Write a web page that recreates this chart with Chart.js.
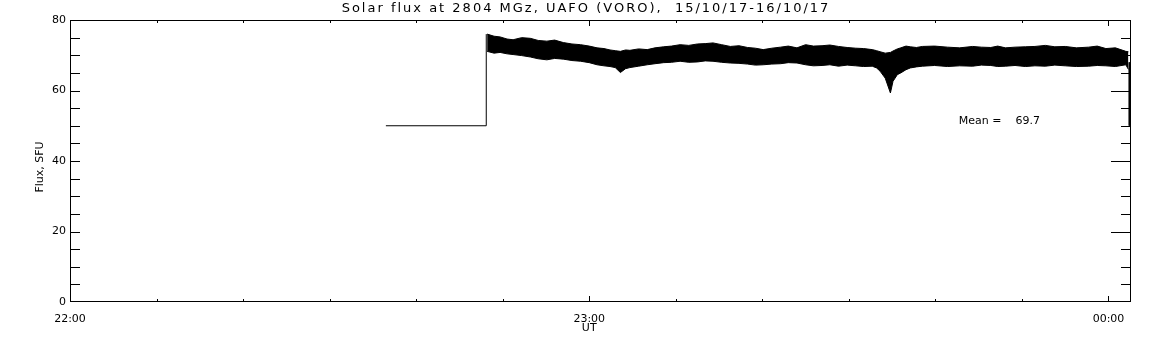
<!DOCTYPE html>
<html>
<head>
<meta charset="utf-8">
<script src="https://cdn.jsdelivr.net/npm/chart.js@4.4.1/dist/chart.umd.min.js"></script>
<style>
  html, body { margin: 0; padding: 0; background: #fff; }
  canvas { display: block; }
</style>
</head>
<body>
<canvas id="fluxChart" width="1152" height="345"></canvas>
<script>
// minutes after 22:00 UT
const bandTime = [48.2, 49.0, 49.7, 50.5, 51.2, 52.2, 53.2, 54.1, 55.1, 56.0, 57.0, 58.0, 59.0, 60.0, 60.9, 61.7,
                  62.4, 63.0, 63.6, 64.2, 64.7, 65.7, 66.7, 67.6, 68.6, 69.5, 70.5, 71.5, 72.5, 73.4, 74.3, 75.3,
                  76.3, 77.3, 78.3, 79.2, 80.1, 81.1, 82.1, 83.0, 84.0, 85.0, 85.9, 86.9, 87.8, 88.8, 89.8, 90.8,
                  91.7, 92.7, 93.2, 93.6, 94.2, 94.8, 95.1, 95.6, 96.0, 96.6, 97.1, 97.8, 98.5, 99.9, 101.4, 102.8,
                  104.3, 105.3, 106.4, 107.2, 108.1, 109.2, 110.4, 111.5, 112.7, 113.8, 115.0, 116.3, 117.7, 118.7,
                  119.7, 120.8, 122.0, 122.3];
const bandHigh = [76.0, 75.4, 75.2, 74.6, 74.4, 75.0, 74.8, 74.2, 74.0, 74.3, 73.6, 73.2, 73.0, 72.6, 72.1, 71.9,
                  71.5, 71.3, 71.1, 71.5, 71.4, 71.8, 71.6, 72.1, 72.4, 72.6, 73.0, 72.8, 73.2, 73.3, 73.5, 73.0,
                  72.5, 72.7, 72.2, 72.0, 71.6, 72.0, 72.3, 72.6, 72.1, 73.0, 72.6, 72.7, 72.9, 72.5, 72.2, 72.0,
                  71.9, 71.6, 71.3, 71.0, 70.6, 70.8, 71.2, 71.8, 72.1, 72.6, 72.4, 72.2, 72.5, 72.6, 72.3, 72.1,
                  72.5, 72.3, 72.2, 72.6, 72.1, 72.3, 72.4, 72.5, 72.8, 72.4, 72.5, 72.1, 72.3, 72.6, 71.9, 72.1,
                  71.1, 71.0];
const bandLow  = [71.1, 70.6, 70.8, 70.4, 70.2, 69.9, 69.5, 69.0, 68.7, 69.1, 68.9, 68.5, 68.3, 67.9, 67.3, 67.0,
                  66.8, 66.5, 65.1, 66.2, 66.5, 66.9, 67.3, 67.6, 67.9, 68.0, 68.3, 68.0, 68.1, 68.4, 68.3, 68.0,
                  67.8, 67.7, 67.5, 67.2, 67.3, 67.5, 67.6, 67.9, 67.8, 67.3, 67.0, 67.1, 67.3, 66.9, 67.2, 67.0,
                  66.8, 66.9, 66.4, 65.5, 63.5, 59.3, 62.6, 64.5, 65.0, 65.9, 66.4, 66.7, 66.9, 67.1, 66.8, 67.0,
                  66.9, 67.2, 67.1, 66.8, 66.9, 67.1, 66.8, 67.0, 66.9, 67.2, 67.0, 66.8, 66.9, 67.1, 67.0, 66.8,
                  67.3, 66.0];
const stepTime = [36.5, 48.1, 48.1];
const stepFlux = [50, 50, 76];
const tailTime = [122.4, 122.4];
const tailFlux = [68, 50];
const hourTicks = [0, 60, 120];
const hourLabels = ['22:00', '23:00', '00:00'];
const meanFlux = 69.7;
const titleText = 'Solar flux at 2804 MGz, UAFO (VORO),  15/10/17-16/10/17';

const pts = (xs, ys) => xs.map((t, i) => ({ x: t, y: ys[i] }));
const FONT = '"DejaVu Sans", sans-serif';

// box, inward ticks and free text
const frame = {
    id: 'frame',
    afterDraw(chart) {
        const { ctx, chartArea: a, scales: { x, y } } = chart;
        ctx.save();
        ctx.strokeStyle = '#000';
        ctx.lineWidth = 1;
        ctx.strokeRect(a.left + 0.5, a.top + 0.5, a.right - a.left - 1, a.bottom - a.top - 1);
        ctx.beginPath();
        for (let t = 0; t <= 120; t += 10) {
            const px = Math.round(x.getPixelForValue(t)) + 0.5;
            const len = t % 60 === 0 ? 6 : 3;
            ctx.moveTo(px, a.bottom); ctx.lineTo(px, a.bottom - len);
            ctx.moveTo(px, a.top); ctx.lineTo(px, a.top + len);
        }
        for (let v = 5; v < 80; v += 5) {
            const py = Math.round(y.getPixelForValue(v)) + 0.5;
            ctx.moveTo(a.left, py); ctx.lineTo(a.left + 10, py);
            const len = v % 20 === 0 ? 20 : 10;
            ctx.moveTo(a.right, py); ctx.lineTo(a.right - len, py);
        }
        ctx.stroke();

        ctx.fillStyle = '#000';
        ctx.textBaseline = 'middle';
        ctx.font = '13px ' + FONT;
        ctx.letterSpacing = '2px';
        ctx.textAlign = 'center';
        ctx.fillText(titleText, 586, 9);
        ctx.letterSpacing = '0px';
        ctx.font = '11px ' + FONT;
        ctx.fillText('UT', x.getPixelForValue(60), 328);
        ctx.textAlign = 'left';
        ctx.fillText('Mean =    ' + meanFlux.toFixed(1), x.getPixelForValue(102.7), y.getPixelForValue(51.3));
        ctx.translate(40, 167);
        ctx.rotate(-Math.PI / 2);
        ctx.textAlign = 'center';
        ctx.fillText('Flux, SFU', 0, 0);
        ctx.restore();
    }
};

Chart.defaults.color = '#000';

new Chart(document.getElementById('fluxChart'), {
    type: 'line',
    data: {
        datasets: [
            { data: pts(bandTime, bandHigh), borderColor: '#000', borderWidth: 1, pointRadius: 0, fill: false },
            { data: pts(bandTime, bandLow), borderColor: '#000', borderWidth: 1, pointRadius: 0,
              fill: '-1', backgroundColor: '#000' },
            { data: pts(stepTime, stepFlux), borderColor: '#000', borderWidth: 1, pointRadius: 0, fill: false },
            { data: pts(tailTime, tailFlux), borderColor: '#000', borderWidth: 1, pointRadius: 0, fill: false }
        ]
    },
    options: {
        responsive: false,
        animation: false,
        layout: { padding: { top: 20, right: 21, left: 0, bottom: 0 } },
        plugins: { legend: { display: false }, tooltip: { enabled: false } },
        scales: {
            x: {
                type: 'linear',
                min: 0,
                max: 122.6,
                afterFit: s => { s.height = 43; },
                grid: { display: false, drawTicks: false },
                border: { display: false },
                afterBuildTicks: s => { s.ticks = hourTicks.map(v => ({ value: v })); },
                ticks: {
                    autoSkip: false,
                    maxRotation: 0,
                    padding: 11,
                    font: { family: FONT, size: 11 },
                    callback: v => hourLabels[hourTicks.indexOf(v)]
                }
            },
            y: {
                min: 0,
                max: 80,
                afterFit: s => { s.width = 70; },
                grid: { display: false, drawTicks: false },
                border: { display: false },
                ticks: { stepSize: 20, padding: 4, font: { family: FONT, size: 11 } }
            }
        }
    },
    plugins: [frame]
});
</script>
</body>
</html>
